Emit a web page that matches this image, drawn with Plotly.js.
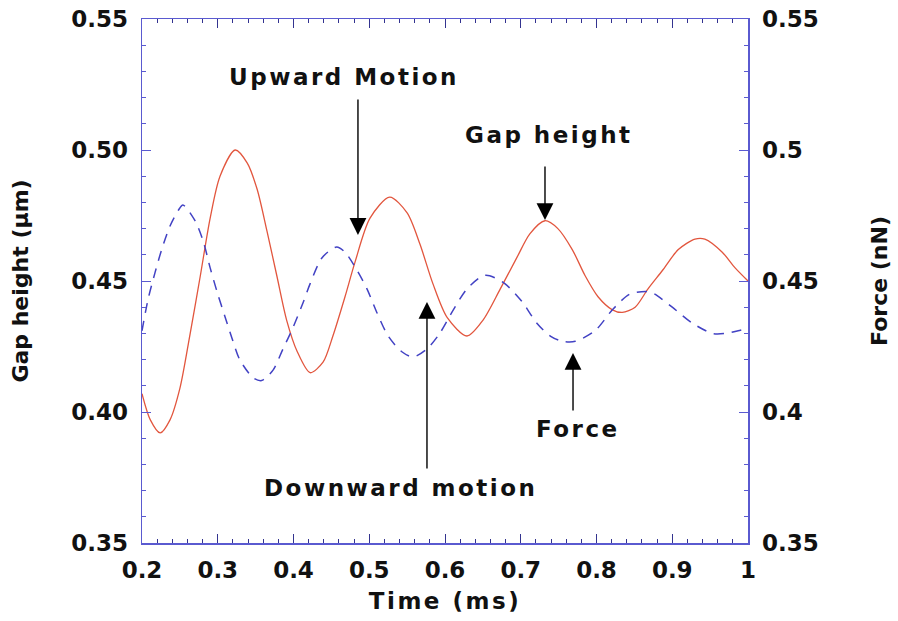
<!DOCTYPE html>
<html>
<head>
<meta charset="utf-8">
<script src="https://cdn.plot.ly/plotly-3.0.1.min.js"></script>
<style>
  html, body { margin: 0; padding: 0; background: #fff; }
  #chart { width: 898px; height: 621px; }
  .annotation-text { letter-spacing: 2.5px; }
  .g-xtitle text { letter-spacing: 2.5px; }
</style>
</head>
<body>
<div id="chart"></div>
<script>
// Gap height (µm) vs time (ms) - solid red
const gapTime = [0.200, 0.211, 0.224, 0.237, 0.250, 0.263, 0.277, 0.290, 0.303, 0.323, 0.339, 0.352, 0.365, 0.378, 0.391, 0.405, 0.422, 0.439, 0.452, 0.468, 0.481, 0.501, 0.527, 0.550, 0.567, 0.584, 0.603, 0.629, 0.650, 0.673, 0.695, 0.712, 0.732, 0.749, 0.768, 0.785, 0.802, 0.821, 0.834, 0.851, 0.868, 0.887, 0.908, 0.930, 0.943, 0.966, 0.983, 1.000];
const gapHeight = [0.407, 0.397, 0.392, 0.397, 0.409, 0.429, 0.452, 0.474, 0.490, 0.500, 0.495, 0.485, 0.469, 0.452, 0.435, 0.423, 0.415, 0.419, 0.429, 0.444, 0.457, 0.474, 0.482, 0.476, 0.464, 0.449, 0.436, 0.429, 0.435, 0.447, 0.459, 0.468, 0.473, 0.470, 0.462, 0.452, 0.444, 0.439, 0.438, 0.440, 0.447, 0.454, 0.462, 0.466, 0.466, 0.461, 0.455, 0.450];

// Force (nN) vs time (ms) - dashed blue
const forceTime = [0.200, 0.208, 0.217, 0.226, 0.237, 0.248, 0.254, 0.270, 0.281, 0.290, 0.300, 0.310, 0.319, 0.329, 0.347, 0.358, 0.373, 0.386, 0.399, 0.413, 0.422, 0.438, 0.457, 0.468, 0.484, 0.497, 0.510, 0.525, 0.543, 0.558, 0.576, 0.593, 0.611, 0.629, 0.650, 0.659, 0.679, 0.702, 0.721, 0.739, 0.755, 0.772, 0.798, 0.821, 0.844, 0.868, 0.877, 0.900, 0.926, 0.953, 0.970, 0.987, 1.000];
const forceValue = [0.431, 0.443, 0.453, 0.462, 0.471, 0.477, 0.479, 0.473, 0.465, 0.455, 0.445, 0.436, 0.428, 0.420, 0.413, 0.412, 0.416, 0.424, 0.432, 0.442, 0.449, 0.459, 0.463, 0.461, 0.454, 0.447, 0.438, 0.429, 0.423, 0.421, 0.424, 0.430, 0.439, 0.447, 0.452, 0.452, 0.449, 0.442, 0.434, 0.429, 0.427, 0.427, 0.431, 0.439, 0.445, 0.446, 0.445, 0.440, 0.434, 0.430, 0.430, 0.431, 0.432];

// Axis tick labels
const xTickVals = [0.2, 0.3, 0.4, 0.5, 0.6, 0.7, 0.8, 0.9, 1.0];
const xTickText = ['0.2', '0.3', '0.4', '0.5', '0.6', '0.7', '0.8', '0.9', '1'];
const yTickVals = [0.35, 0.40, 0.45, 0.50, 0.55];
const yLeftText = ['0.35', '0.40', '0.45', '0.50', '0.55'];
const yRightText = ['0.35', '0.4', '0.45', '0.5', '0.55'];

const FONT = 'DejaVu Sans, Arial, sans-serif';
const AXCOL = '#5a5ad0';
const TICKCOL = '#33338f';

const traces = [
  {
    x: gapTime, y: gapHeight, type: 'scatter', mode: 'lines',
    line: { color: '#e2563e', width: 1.3, shape: 'spline', smoothing: 0.8 },
    name: 'Gap height', yaxis: 'y'
  },
  {
    x: forceTime, y: forceValue, type: 'scatter', mode: 'lines',
    line: { color: '#4242c4', width: 1.5, dash: '10px,8px', shape: 'spline', smoothing: 0.8 },
    name: 'Force', yaxis: 'y2'
  }
];

const arrow = (x, y, ax, ay) => ({
  x: x, y: y, ax: ax, ay: ay, xref: 'x', yref: 'y', axref: 'x', ayref: 'y',
  text: '', showarrow: true, arrowhead: 2, arrowsize: 2.4, arrowwidth: 1.4,
  arrowcolor: '#000', standoff: 0, startstandoff: 0
});
const label = (x, y, t) => ({
  x: x, y: y, xref: 'x', yref: 'y', text: t, showarrow: false,
  font: { family: FONT, size: 23, color: '#111', weight: 'bold' },
  xanchor: 'center', yanchor: 'middle'
});

const layout = {
  width: 898, height: 621,
  margin: { l: 142, r: 150, t: 19, b: 78 },
  paper_bgcolor: '#fff', plot_bgcolor: '#fff',
  showlegend: false,
  font: { family: FONT, color: '#111' },
  xaxis: {
    range: [0.2, 1.0], tickvals: xTickVals, ticktext: xTickText,
    ticks: 'inside', ticklen: 9, tickwidth: 1, tickcolor: TICKCOL,
    minor: { dtick: 0.02, tick0: 0.2, ticks: 'inside', ticklen: 4, tickcolor: TICKCOL, showgrid: false },
    showline: true, linecolor: AXCOL, linewidth: 1.5, mirror: 'ticks',
    showgrid: false, zeroline: false,
    tickfont: { family: FONT, size: 23, color: '#111', weight: 'bold' },
    ticklabelstandoff: 6,
    title: { text: 'Time (ms)', font: { family: FONT, size: 23, color: '#111', weight: 'bold' }, standoff: 11 },
    automargin: false
  },
  yaxis: {
    range: [0.35, 0.55], tickvals: yTickVals, ticktext: yLeftText,
    ticks: 'inside', ticklen: 9, tickwidth: 1, tickcolor: AXCOL,
    minor: { dtick: 0.01, tick0: 0.35, ticks: 'inside', ticklen: 4, tickcolor: AXCOL, showgrid: false },
    showline: true, linecolor: AXCOL, linewidth: 1.5,
    showgrid: false, zeroline: false,
    tickfont: { family: FONT, size: 23, color: '#111', weight: 'bold' },
    ticklabelstandoff: 8,
    title: { text: 'Gap height (μm)', font: { family: FONT, size: 22, color: '#111', weight: 'bold' }, standoff: 36 },
    automargin: false
  },
  yaxis2: {
    range: [0.35, 0.55], tickvals: yTickVals, ticktext: yRightText,
    overlaying: 'y', side: 'right', anchor: 'x',
    ticks: 'inside', ticklen: 9, tickwidth: 1, tickcolor: AXCOL,
    minor: { dtick: 0.01, tick0: 0.35, ticks: 'inside', ticklen: 4, tickcolor: AXCOL, showgrid: false },
    showline: true, linecolor: AXCOL, linewidth: 1.5,
    showgrid: false, zeroline: false,
    tickfont: { family: FONT, size: 23, color: '#111', weight: 'bold' },
    ticklabelstandoff: 8,
    title: { text: 'Force (nN)', font: { family: FONT, size: 22, color: '#111', weight: 'bold' }, standoff: 54 },
    automargin: false
  },
  annotations: [
    label(0.4667, 0.5279, 'Upward Motion'),
    label(0.7370, 0.5057, 'Gap height'),
    label(0.7756, 0.3935, 'Force'),
    label(0.5419, 0.3710, 'Downward motion'),
    arrow(0.4851, 0.4676, 0.4851, 0.5198),
    arrow(0.7320, 0.4733, 0.7320, 0.4943),
    arrow(0.7690, 0.4225, 0.7690, 0.4000),
    arrow(0.5762, 0.4420, 0.5762, 0.3779)
  ]
};

Plotly.newPlot('chart', traces, layout, { staticPlot: true, displayModeBar: false });
</script>
</body>
</html>
